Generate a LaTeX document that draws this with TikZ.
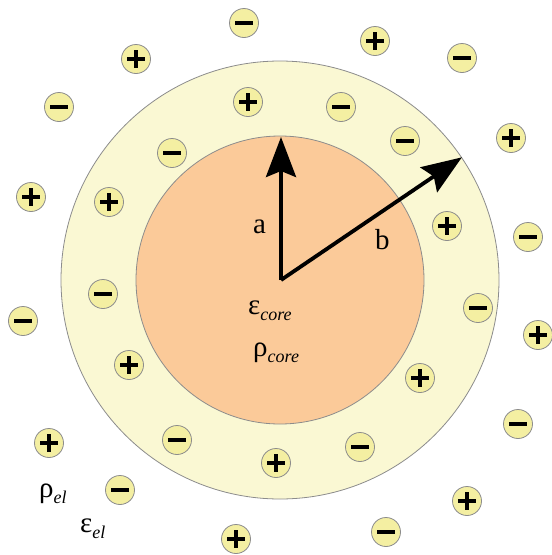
\documentclass[tikz,border=0pt]{standalone}
\usepackage{fontspec}
\setmainfont{Liberation Serif}
\usetikzlibrary{arrows.meta}
\definecolor{shellc}{HTML}{FAF8D3}
\definecolor{corec}{HTML}{FBCA99}
\definecolor{ionc}{HTML}{F4EFA2}
\definecolor{ringc}{HTML}{8C8C8C}
\newcommand\lowsub[1]{\raisebox{-6pt}{\fontsize{18}{18}\selectfont\itshape #1}}
\tikzset{
  ionbase/.style={circle, minimum size=29pt, inner sep=0pt, draw=ringc, line width=0.8pt, fill=ionc},
  neg/.style={ionbase, path picture={\fill[black] ([shift={(-9pt,-2pt)}]path picture bounding box.center) rectangle ++(18pt,4pt);}},
  posi/.style={ionbase, path picture={\fill[black] ([shift={(-9pt,-2pt)}]path picture bounding box.center) rectangle ++(18pt,4pt);
     \fill[black] ([shift={(-2pt,-9pt)}]path picture bounding box.center) rectangle ++(4pt,18pt);}},
  lbl/.style={anchor=base west, inner sep=0pt, font=\fontsize{29}{29}\selectfont},
  radius arrow/.style={line width=3.8pt, -{Stealth[length=40pt, width=30pt, inset=6pt]}}
}
\begin{document}
\begin{tikzpicture}[x=1pt,y=-1pt]
\useasboundingbox[fill=white] (0,0) rectangle (552,555);
\node[circle, minimum size=438pt, inner sep=0pt, draw=ringc, line width=0.8pt, fill=shellc] (shell) at (280,280) {};
\node[circle, minimum size=288pt, inner sep=0pt, draw=ringc, line width=0.8pt, fill=corec] (core) at (280,280) {};
\coordinate (c) at (281,280);
\coordinate (atip) at (281,137);
\draw[radius arrow] (c) -- (atip);
\draw[radius arrow] (c) -- (shell.34);
\node[lbl] (la) at (253,233) {a};
\node[lbl] (lb) at (375,249) {b};
\node[lbl] (ecore) at (248,314) {ε\lowsub{core}};
\node[lbl] (rcore) at (253,356) {ρ\lowsub{core}};
\node[lbl] (rel) at (39,497) {ρ\lowsub{el}};
\node[lbl] (eel) at (80,532) {ε\lowsub{el}};
% outside ions
\node[neg] (o1) at (244,23) {};
\node[posi] (o2) at (136,59) {};
\node[neg] (o3) at (59,107) {};
\node[posi] (o4) at (31,197) {};
\node[neg] (o5) at (23,321) {};
\node[posi] (o6) at (49,443) {};
\node[neg] (o7) at (120,490) {};
\node[posi] (o8) at (236,539) {};
\node[neg] (o9) at (386,532) {};
\node[posi] (o10) at (467,501) {};
\node[neg] (o11) at (518,424) {};
\node[posi] (o12) at (538,335) {};
\node[neg] (o13) at (528,237) {};
\node[posi] (o14) at (511,138) {};
\node[neg] (o15) at (462,58) {};
\node[posi] (o16) at (375,41) {};
% shell ions
\node[posi] (s1) at (248,102) {};
\node[neg] (s2) at (341,107) {};
\node[neg] (s3) at (405,141) {};
\node[neg] (s4) at (172,153) {};
\node[posi] (s5) at (109,202) {};
\node[posi] (s6) at (447,226) {};
\node[neg] (s7) at (103,294) {};
\node[neg] (s8) at (478,308) {};
\node[posi] (s9) at (129,365) {};
\node[posi] (s10) at (420,378) {};
\node[neg] (s11) at (177,440) {};
\node[neg] (s12) at (360,447) {};
\node[posi] (s13) at (276,463) {};
\end{tikzpicture}
\end{document}
